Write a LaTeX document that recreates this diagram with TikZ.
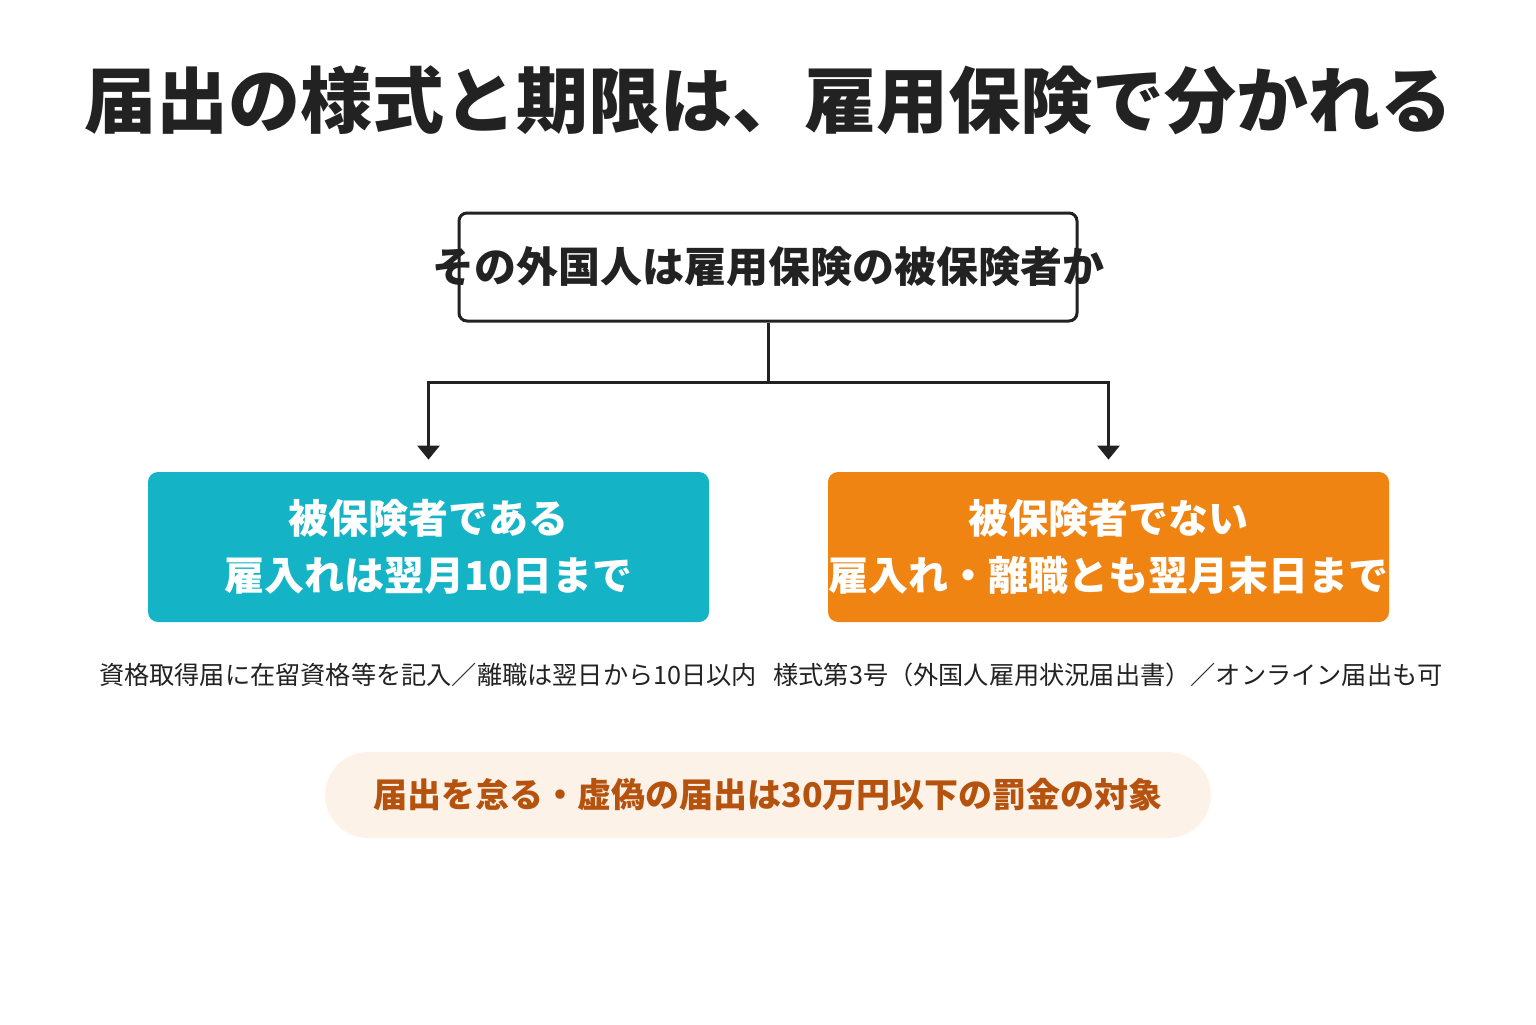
\documentclass[tikz,border=0pt]{standalone}
\usepackage{fontspec}
\setmainfont{Noto Sans CJK JP}
\newfontfamily\heavyfont{Noto Sans CJK JP Black}
\usetikzlibrary{arrows.meta}

\definecolor{ink}{HTML}{222222}
\definecolor{jaFarbe}{HTML}{14B3C6}
\definecolor{neinFarbe}{HTML}{EF8413}
\definecolor{creme}{HTML}{FDF2E7}
\definecolor{rost}{HTML}{B4520E}

\tikzset{
  verbinder/.style={draw=ink, line width=1.5pt},
  pfeil/.style={-{Triangle[width=11pt,length=7pt]}},
  antwort/.style={rounded corners=5pt, minimum width=280.5pt, minimum height=75pt,
    inner sep=0pt, align=center, text=white, font=\bfseries\fontsize{20}{28.5}\selectfont},
  notiz/.style={text=ink, font=\fontsize{12.6}{15}\selectfont}
}

\begin{document}
\begin{tikzpicture}[x=0.5pt,y=-0.5pt]
  \useasboundingbox (0,0) rectangle (1536,1024);

  \node[text=ink, font=\heavyfont\fontsize{36}{40}\selectfont] (titel) at (768,100)
    {届出の様式と期限は、雇用保険で分かれる};

  % Frage
  \node[draw=ink, line width=1.5pt, rounded corners=4pt, minimum width=309pt,
    minimum height=54pt] (frage) at (768,267) {};
  \node[text=ink, font=\bfseries\fontsize{21}{24}\selectfont] (frageText) at (frage.center)
    {その外国人は雇用保険の被保険者か};

  % Antworten
  \node[antwort, fill=jaFarbe] (ja) at (428.5,547) {被保険者である\\雇入れは翌月10日まで};
  \node[antwort, fill=neinFarbe] (nein) at (1108.5,547) {被保険者でない\\雇入れ・離職とも翌月末日まで};

  \draw[verbinder] (frage.south) -- ++(0,60) coordinate (gabel);
  \draw[verbinder, pfeil] (gabel) -| ([yshift=6pt]ja.north);
  \draw[verbinder, pfeil] (gabel) -| ([yshift=6pt]nein.north);

  \node[notiz] (jaNotiz) at (428,675) {資格取得届に在留資格等を記入／離職は翌日から10日以内};
  \node[notiz] (neinNotiz) at (1108,675) {様式第3号（外国人雇用状況届出書）／オンライン届出も可};

  % Strafe
  \node[fill=creme, rounded corners=21.5pt, minimum width=443pt, minimum height=43pt,
    text=rost, font=\bfseries\fontsize{17}{20}\selectfont] (strafe) at (768,795)
    {届出を怠る・虚偽の届出は30万円以下の罰金の対象};
\end{tikzpicture}
\end{document}
